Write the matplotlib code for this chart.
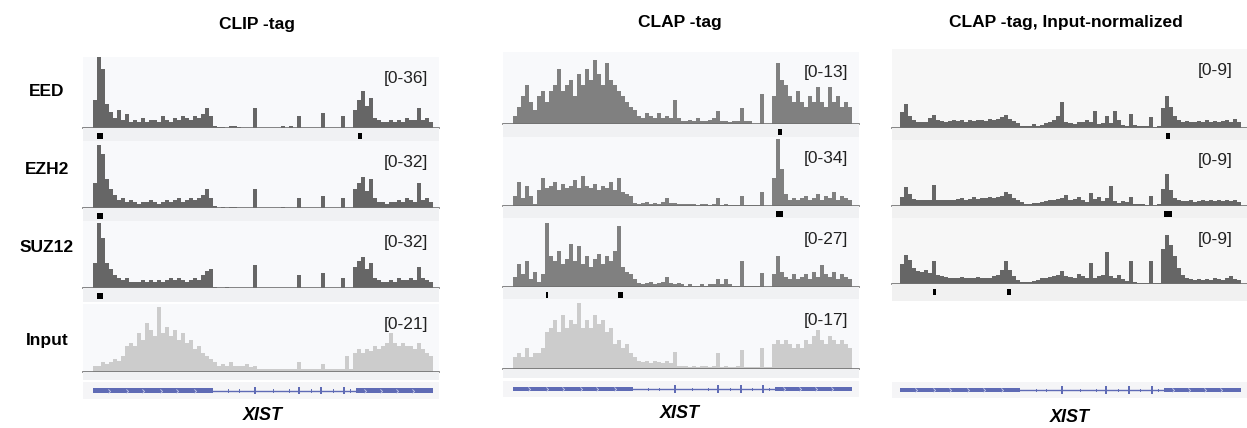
# IGV-style coverage tracks over XIST
import matplotlib.pyplot as plt
import numpy as np
from matplotlib.path import Path

plt.rcParams['font.family'] = ['Liberation Sans', 'DejaVu Sans']

# ---- data: coverage per bin along the XIST locus (85 bins) ----
clip_eed = [14, 36, 30, 12, 8, 5, 9, 4, 7, 3,
            4, 3, 5, 3, 4, 4, 3, 6, 4, 3,
            5, 4, 6, 5, 4, 6, 5, 7, 10, 6,
            1, 0.5, 0.5, 0, 1, 1, 0.5, 0, 0, 0,
            10, 0, 0, 0, 0, 0, 0, 1, 0, 1,
            0, 6, 0, 0, 0, 0, 0, 7.5, 0, 0,
            0, 0, 6, 0, 0, 9, 14, 19, 11, 15,
            5, 4, 3, 3, 4, 3, 4, 3, 5, 4,
            4, 10, 4, 5, 3]
clip_ezh2 = [12, 30, 26, 14, 9, 6, 4, 5, 3, 4,
             3, 2, 3, 3, 4, 3, 2, 3, 4, 3,
             4, 5, 3, 4, 5, 4, 5, 6, 9, 5,
             1, 0, 0.5, 0, 0.5, 0.5, 0, 0, 0, 0,
             9, 0, 0, 0, 0, 0, 0, 0.5, 0, 0,
             0, 5, 0, 0, 0, 0, 0, 5.5, 0, 0,
             0, 0, 5, 0, 0, 9, 12, 15, 8, 14,
             5, 3, 3, 2, 3, 3, 4, 3, 5, 4,
             3, 12, 4, 5, 3]
clip_suz12 = [12, 31, 24, 12, 9, 6, 5, 4, 5, 3,
              3, 3, 4, 3, 4, 3, 4, 3, 4, 5,
              4, 5, 4, 3, 4, 5, 4, 6, 8, 9,
              0.5, 0, 0, 0.5, 0, 0, 0, 0, 0, 0,
              11, 0, 0, 0, 0, 0, 0, 0, 0, 0,
              0, 6, 0, 0, 0, 0, 0, 7, 0, 0,
              0, 0, 5, 0, 0, 10, 13, 15, 9, 12,
              5, 4, 3, 3, 4, 3, 5, 4, 4, 5,
              4, 10, 5, 4, 3]
clip_input = [2, 2, 3, 2.5, 3, 4, 3.5, 5,
              8, 9, 8, 12, 10, 15,
              13, 11, 20, 12, 14, 11, 13, 10, 12, 9, 10, 7,
              8, 6, 5, 4, 3,
              2, 2.5, 2, 3, 2, 2, 2, 2.5, 1.5, 2,
              1, 1, 1, 1, 1, 1, 0.8, 1, 1, 0.8, 3, 1, 1, 1, 1, 1, 2.6, 1, 1, 1, 1, 1, 5, 1,
              6, 7, 6, 7, 6.5, 8, 7, 8, 9, 12, 9, 8, 9, 8, 8, 7, 9, 7, 6, 5]

clap_eed = [1.5, 3, 5, 7, 4, 2.5,
            5, 6, 4, 6, 7, 10, 6, 7, 8, 5, 9, 7,
            10, 8, 11.5, 9, 7, 11, 8, 7, 6,
            5, 4, 3, 2.5,
            1.5, 1, 2, 1.5, 1, 2, 1, 1.5, 1, 4.3, 1,
            0.5, 0.5, 0.7, 0.5, 1, 0.5, 0.5, 0.8, 1, 2.3, 0.5, 0.5, 0.3, 0.5, 0.5, 2.9,
            0.5, 0.5, 0, 0, 5.5, 0, 0,
            5, 11, 8, 7, 5, 4, 6, 4, 3, 5, 4, 6.7, 4, 3, 6.7, 4, 5, 3, 4, 3]
clap_ezh2 = [5, 12, 4, 10, 5, 1,
             8, 14, 9, 10, 12, 8, 11, 9, 10, 13, 9, 15, 10, 9, 11, 8, 10, 9, 12, 8, 14, 7, 6, 5,
             1.5, 1, 1.5, 2, 1, 1.5, 1, 2, 4, 1.5, 1.5, 1, 1, 0.8, 1, 1, 0.5, 1, 1, 0.5,
             1, 4, 0.5, 1, 0.5, 0.5, 0.7, 4.7, 0.5, 0.5, 0.3, 0.5, 7, 0, 0,
             14, 33, 18, 6, 3, 4, 3, 4, 5, 3, 4, 6, 3, 5, 4, 7, 3, 5, 4, 3]
clap_suz12 = [4, 9, 5, 10, 3, 6, 2, 5,
              25,
              12, 10, 14, 9, 11, 17, 10, 16, 9, 12, 8, 11, 13, 9, 12, 10, 14,
              24,
              8, 6, 5, 3,
              1.5, 1, 1.5, 2, 1, 1.5, 2, 4, 1.5, 1, 1.5, 1, 0.5, 1, 0.5, 0.5, 1, 0.5, 1, 1,
              3, 1, 3, 1, 0.5, 0.5, 10, 0.5, 0.5, 0.5, 0.5, 5.5, 0, 0,
              5, 12, 6, 4, 3, 5, 3, 4, 5, 3, 6, 4, 8.7, 5, 4, 6, 3, 5, 4, 3]
clap_input = [3, 4, 3, 5, 3, 4, 4, 5,
              9, 10, 12, 9, 13, 10, 12,
              11, 16, 10, 12, 10, 13, 11, 12, 9, 10,
              6, 7, 5, 6, 4, 3,
              2, 1.8, 2, 1.5, 2, 1.8, 1.5, 2, 1.5,
              4.2,
              0.7, 0.7, 0.8, 0.6, 0.7, 0.5, 0.7, 0.8, 0.6, 0.7, 4, 0.6, 0.7, 0.5, 0.6, 0.7,
              4.5, 0.6, 0.5, 0.5, 0.4, 5, 0.4, 0.5,
              6, 7, 6, 7, 6, 5, 6, 5, 7, 6, 8, 9.5, 7, 6, 8, 7, 6, 7, 6, 5]

norm_eed = [2, 3.1, 1.5, 1, 0.8, 0.7, 0.8,
            1.3, 1.6, 1, 0.9, 0.8, 0.9, 1, 0.9, 1, 0.8, 1, 0.9, 1, 1, 0.9, 1.1, 1, 1.2, 1.4, 1.6, 1.2, 0.9, 0.6,
            0.3, 0.2, 0.3, 0.5, 0.3, 0.4, 0.6,
            0.8, 1, 1.5, 3.3, 0.8,
            0.6, 0.5, 0.8, 0.7, 1, 0.8, 2.2, 0.5, 0.6, 1.5, 0.6, 2.2, 1, 0.4, 0.3, 1.8,
            0.4, 0.3, 0.2, 0.2, 1.4, 0.1,
            0.3, 2.5, 4, 2.7, 1.5, 1, 0.8, 0.9, 0.8, 0.7, 0.9, 0.8, 1, 0.8, 0.9, 0.8, 0.9, 1, 0.8, 1.2, 0.8]
norm_ezh2 = [1.2, 2.4, 1.5, 0.9, 0.8, 0.7, 0.8, 0.8,
             2.7,
             0.8, 0.7, 0.8, 0.7, 0.8, 0.9, 1, 0.8, 0.9, 1.1, 0.9, 1, 1, 1.2, 1, 1.1, 1.3,
             1.8, 1.5, 1, 0.7, 0.5,
             0.3, 0.3, 0.4, 0.4, 0.5, 0.6,
             0.7, 0.8, 0.9, 1, 1.4, 0.7, 0.9, 1.2, 0.8, 0.5, 1.6, 0.9, 1.2, 0.6, 1, 2.5,
             0.6, 0.4, 0.6, 0.5, 1.1, 0.3, 0.2, 0.3, 0.1, 1.3, 0.1,
             0.3, 2.2, 4.1, 2, 1, 0.7, 0.6, 0.6, 0.7, 0.5, 0.6, 0.7, 0.6, 0.7, 0.6, 0.8, 0.6, 0.7, 0.6, 0.8, 0.5]
norm_suz12 = [2.5, 3.7, 3, 2, 1.6, 1.5, 1.8, 1.4,
              2.9,
              1.2, 1, 0.9, 0.8, 0.8, 0.7, 0.9, 0.8, 0.7, 0.8, 0.9, 0.8, 0.7, 0.8, 1, 1.2, 1.8,
              2.9, 1.8, 1,
              0.5, 0.3, 0.3, 0.3, 0.4, 0.5,
              0.7, 0.8, 0.9, 1, 1.2, 1.6, 1, 0.9, 0.8, 1.3, 1, 0.8, 2.7, 0.8, 1, 1.2, 4, 1,
              0.8, 1.2, 0.6, 0.4, 2.9, 0.3, 0.1, 0.1, 0.1, 2.9, 0.1,
              0.1, 4.5, 6.2, 5, 3.5, 2, 1.2, 0.8, 0.6, 0.5, 0.6, 0.5, 0.6, 0.5, 0.7, 0.6, 0.5, 0.8, 1, 0.6, 0.5]

# data ranges shown in brackets
clip_ranges = [36, 32, 32, 21]
clap_ranges = [13, 34, 27, 17]
norm_ranges = [9, 9, 9]

# called peaks (start, end in bin units)
clip_peaks = [[(1.0, 2.5), (66.2, 67.2)], [(1.0, 2.5)], [(1.0, 2.5)], []]
clap_peaks = [[(66.4, 67.4)], [(65.9, 67.7)], [(8.3, 8.9), (26.3, 27.6)], []]
norm_peaks = [[(66.3, 67.3)], [(65.8, 67.8)], [(8.2, 9.0), (26.7, 27.7)]]

# XIST gene model (bin units)
big_exons = [(0, 30), (65.7, 85)]
small_exons = [40.5, 51.4, 57.1, 62.7]
intron_ticks = [33.8, 36.5, 44.9, 48.9, 54.4, 59.9, 64.2]
chevrons = [4, 8.5, 12.5, 17, 21, 25.5, 68, 72, 76, 80]

row_names = ['EED', 'EZH2', 'SUZ12', 'Input']

# ---- layout (pixels) ----
W, H = 1247, 428
fig = plt.figure(figsize=(W / 100, H / 100), dpi=100)


def px_axes(x0, y0, x1, y1):
    ax = fig.add_axes([x0 / W, 1 - y1 / H, (x1 - x0) / W, (y1 - y0) / H])
    for s in ax.spines.values():
        s.set_visible(False)
    ax.set_xticks([])
    ax.set_yticks([])
    return ax


def fig_text(x, y, s, **kw):
    fig.text(x / W, 1 - y / H, s, **kw)


panels = [
    dict(title='CLIP -tag', tx=257, ty=24, x0=83, x1=439, xlim=(-2.5, 86.5), right=428,
         tracks=[clip_eed, clip_ezh2, clip_suz12, clip_input], ranges=clip_ranges, peaks=clip_peaks,
         rows=[(57, 128, 141), (141, 208, 221), (221, 288, 302), (304, 372, 380)],
         gene=(382, 399), xist=(263, 415), color='#666666', bg='#f8f9fb', band='#f0f1f3', ref=None),
    dict(title='CLAP -tag', tx=680, ty=22, x0=503, x1=859, xlim=(-2.5, 86.75), right=848,
         tracks=[clap_eed, clap_ezh2, clap_suz12, clap_input], ranges=clap_ranges, peaks=clap_peaks,
         rows=[(52, 124, 137), (137, 206, 218), (218, 287, 299), (299, 369, 378)],
         gene=(381, 397), xist=(680, 413), color='#808080', bg='#f8f9fb', band='#f0f1f3', ref=None),
    dict(title='CLAP -tag, Input-normalized', tx=1066, ty=22, x0=892, x1=1247, xlim=(-2.0, 86.5), right=1233,
         tracks=[norm_eed, norm_ezh2, norm_suz12], ranges=norm_ranges, peaks=norm_peaks,
         rows=[(49, 128, 140), (140, 206, 218), (218, 284, 301)],
         gene=(382, 398), xist=(1070, 417), color='#666666', bg='#f7f7f7', band='#f1f1f1', ref=71),
]

gene_color = '#5f6bb5'

for p in panels:
    fig_text(p['tx'], p['ty'], p['title'], ha='center', va='center', fontsize=12.5, fontweight='bold')
    for vals, rng, peaks, (top, base, bot), i in zip(p['tracks'], p['ranges'], p['peaks'], p['rows'], range(4)):
        ax = px_axes(p['x0'], top, p['x1'], base)
        ax.set_facecolor(p['bg'])
        fill = '#cccccc' if i == 3 else p['color']
        ax.bar(np.arange(len(vals)), vals, width=1, align='edge', color=fill, linewidth=0)
        ax.set_xlim(*p['xlim'])
        ytop = rng if p['ref'] is None else rng * (base - top) / p['ref']
        ax.set_ylim(0, ytop)
        ax.spines['bottom'].set_visible(True)
        ax.spines['bottom'].set_color('#707070')
        ax.spines['bottom'].set_linewidth(1.2)
        fig_text(p['right'], top + 21, '[0-%d]' % rng, ha='right', va='center', fontsize=12.5, color='#222222')

        band = px_axes(p['x0'], base, p['x1'], bot)
        band.set_facecolor(p['band'])
        band.set_xlim(*p['xlim'])
        band.set_ylim(bot - base, 0)
        for a, b in peaks:
            band.bar(a, 6, width=b - a, bottom=5, align='edge', color='black', linewidth=0)

    # gene model
    g0, g1 = p['gene']
    gax = px_axes(p['x0'], g0, p['x1'], g1)
    gax.set_facecolor('#f5f5f7')
    gax.set_xlim(*p['xlim'])
    gax.set_ylim(-1, 1)
    gax.plot([big_exons[0][1], big_exons[1][0]], [0, 0], color=gene_color, lw=1)
    for a, b in big_exons:
        gax.bar(a, 0.6, width=b - a, bottom=-0.3, align='edge', color=gene_color, linewidth=0)
    for x in small_exons:
        gax.bar(x - 0.25, 0.9, width=0.5, bottom=-0.45, align='edge', color=gene_color, linewidth=0)
    for x in intron_ticks:
        gax.plot([x, x], [-0.18, 0.18], color=gene_color, lw=0.7)
    chev = Path([(-0.5, 1), (0.5, 0), (-0.5, -1)], [Path.MOVETO, Path.LINETO, Path.LINETO])
    gax.plot(chevrons, np.zeros(len(chevrons)), ls='', marker=chev, markersize=3,
             markeredgecolor='#c8cdea', markerfacecolor='none', markeredgewidth=0.6)

    fig_text(p['xist'][0], p['xist'][1], 'XIST', ha='center', va='center', fontsize=13,
             fontweight='bold', fontstyle='italic')

# row labels
for name, y in zip(row_names, [92, 170, 248, 340]):
    fig_text(47, y, name, ha='center', va='center', fontsize=12.5, fontweight='bold')

fig.savefig('out.png', dpi=100, facecolor='white')
